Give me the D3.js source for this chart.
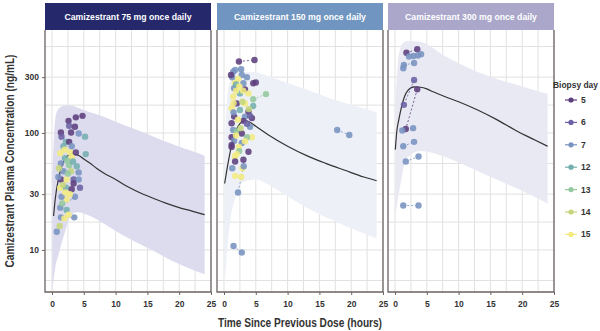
<!DOCTYPE html>
<html>
  <head>
    <meta charset="utf-8">
    <script src="https://d3js.org/d3.v7.min.js"></script>
    <style>
      body { margin: 0; background: #fff; }
      text { font-family: "Liberation Sans", Arial, sans-serif; }
      .hdr { font-weight: bold; font-size: 8.7px; fill: #fff; }
      .tick { font-weight: bold; font-size: 8.5px; fill: #333; }
    </style>
  </head>
  <body>
    <script>
      // categories
      var days = [5, 6, 7, 12, 13, 14, 15];
      var dayColors = ["#5d3f7e", "#6a62a4", "#7893c0", "#74aeae", "#94c89e", "#c5d67c", "#f3ea80"];
      var panelTitles = ["Camizestrant 75 mg once daily", "Camizestrant 150 mg once daily", "Camizestrant 300 mg once daily"];
      var headerColors = ["#25296b", "#6f95c0", "#aaa7ca"];
      var bandColors = ["#dddcef", "#eef0f7", "#e9e9f4"];
      var timeTicks = [0, 5, 10, 15, 20, 25];
      var concTicks = [10, 30, 100, 300];

      // model median [time, conc]
      var median75 = [[0.25,19.5],[0.5,27],[1,40],[1.5,51],[2,59],[2.5,64],[3,66],[4,65],[5,60],[6,55],[7,50],
                      [8,46],[10,40],[12,34.5],[14,30.5],[16,27.5],[18,25],[20,23],[22,21.5],[24,20]];
      var median150 = [[0.1,37],[0.5,50],[1,70],[1.5,90],[2,108],[2.5,120],[3,126],[3.5,127],[4,124],[5,114],
                       [7,96],[10,77],[13,64],[16,55],[19,48],[22,42],[24,39]];
      var median300 = [[0.05,72],[0.3,105],[0.6,130],[1,165],[1.5,205],[2,230],[3,248],[4,246],[5,238],[6,225],
                       [8,203],[10,185],[13,157],[16,130],[19,105],[22,87],[24,77]];

      // 90% prediction band [time, lower, upper]
      var band75 = [[0.05,4.4,40],[0.5,7,130],[1,9,160],[2,14,172],[3,20,172],[4,21,165],[6,19.5,150],[8,17,138],
                    [10,14.5,125],[13,11.8,108],[16,9.8,93],[19,8,80],[22,6.8,70],[24,6.2,64]];
      var band150 = [[0.1,5,60],[0.5,10,200],[1,18,280],[2,30,330],[3,38,335],[5,40,330],[7,36,305],[9,31,280],
                     [13,23,235],[17,18,195],[21,14.5,168],[24,12.5,150]];
      var band300 = [[0.1,20,200],[0.5,28,420],[1,40,560],[1.5,55,600],[2,62,610],[4,70,600],[8,62,450],
                     [12,50,350],[16,40,290],[20,32,250],[24,25,215]];

      // observations [time, conc, biopsy day, subject (pairs joined)]
      var obs75 = [[2.6,127,5],[3.75,136,5,1],[4.8,140,5,1],[2.7,115,6],[3.6,113,5],[1.4,101,5],[1.5,93,6],
                   [3.0,101,5],[4.2,99,7],[5.2,93,12],[2.2,84,12],[2.7,84,5],[1.8,77,12],[3.1,77,7],[1.3,67,15],
                   [2.85,68,15],[3.75,68,5],[5.3,66,12],[2.05,61,12],[3.1,62,15],[1.4,55,7],[2.7,53,13],[3.9,52,12],
                   [1.8,47,7,4],[3.0,47,14],[4.2,46,7,4],[1.4,40,5],[2.3,40,15],[3.4,40,6],[3.4,37,5],[1.0,42,7],
                   [4.2,40,7],[1.3,34,15],[2.2,34,12],[3.1,33,5],[4.4,34,6],[3.6,28.5,7,3],[1.3,23,7,3],[2.3,27,15],
                   [1.5,28.5,7],[2.3,22,12],[1.4,19,7,2],[3.5,19,7,2],[1.95,18.6,15],[0.75,14.3,7],[2.0,72,15],
                   [2.4,58,13],[1.7,36,14],[2.8,30,15],[1.1,50,14],[3.3,57,12],[2.5,45,13],[2.1,31,15],[1.6,25,13],
                   [2.6,20,15],[1.2,16,14]];
      var obs150 = [[2.35,408,5,11],[4.8,421,5,11],[1.45,334,7],[2.7,350,7],[1.75,345,7],[1.3,299,7],[2.8,313,7],
                    [1.1,313,5],[1.7,266,15],[3.05,266,7],[4.6,266,5,12],[5.0,270,5,12],[6.6,215,13,13],[4.6,194,13,13],
                    [1.6,241,7],[3.3,236,5],[2.5,218,12],[3.85,218,15],[1.45,204,15],[2.0,179,5],[3.3,179,15],
                    [4.6,170,12],[1.2,163,15],[2.5,157,12],[3.85,152,5],[1.6,138,5],[3.3,138,7],[4.4,134,5],[1.2,121,5],
                    [3.05,127,5],[4.1,113,7],[1.45,106,7],[2.0,103,13],[2.8,99,5],[4.4,92,15],[3.6,92,13],[1.2,92,5],
                    [1.6,86,7],[2.8,82,7],[1.2,76,5],[2.35,76,15],[3.85,69,5],[1.7,63,15],[3.05,59,5],[1.3,50,7],
                    [2.9,50,15],[1.75,43,15],[3.1,52,7,16],[2.2,31,7,16],[1.5,10.8,7,14],[2.8,9.5,7,14],
                    [17.8,106,7,15],[19.7,96,7,15],[1.75,57,5],[1.2,79,5],[2.2,290,15],[3.6,300,7],[1.9,230,15],
                    [2.9,185,14],[1.5,180,15],[3.9,160,14],[2.2,130,15],[3.6,120,6],[2.6,110,14],[1.9,95,15],
                    [3.3,85,15],[2.4,70,13],[2.0,66,15],[2.7,42,15],[1.5,150,7],[4.1,140,6],[1.9,260,12],
                    [2.4,250,15],[3.0,230,15]];
      var obs300 = [[1.8,485,5,21],[3.5,519,5,21],[2.2,450,7],[2.9,455,7],[4.1,472,7],[3.6,460,7],[1.4,381,7,22],
                    [3.0,396,7,22],[1.3,358,7],[3.0,284,6,23],[1.4,174,6,23],[3.5,236,5,24],[1.7,108,5,24],
                    [1.15,105,7,25],[2.85,110,7,25],[1.3,77,7,26],[3.0,84,7,26],[1.7,57,7,27],[3.7,63,7,27],
                    [1.3,24,7,28],[3.7,24,7,28]];

      var medians = [median75, median150, median300];
      var bands = [band75, band150, band300];
      var observations = [obs75, obs150, obs300];

      var W = 600, H = 331;
      var panelX = [45, 217, 388], panelW = 166;
      var plotTop = 30, plotBottom = 292, hdrTop = 3;

      var svg = d3.select("body").append("svg")
        .attr("width", W).attr("height", H);

      var y = d3.scaleLog().domain([4.37, 759]).range([plotBottom, plotTop]);
      var yMinor = [5.48, 17.3, 54.8, 173, 548];
      var color = d3.scaleOrdinal().domain(days).range(dayColors);

      panelTitles.forEach(function (title, p) {
        var x = d3.scaleLinear().domain([-1.1, 25]).range([panelX[p], panelX[p] + panelW]);
        var g = svg.append("g");

        // grid
        var xGrid = d3.range(0, 25.1, 2.5);
        g.selectAll(".vg").data(xGrid).enter().append("line")
          .attr("x1", x).attr("x2", x).attr("y1", plotTop).attr("y2", plotBottom)
          .attr("stroke", "#e1e1e1").attr("stroke-width", 1);
        g.selectAll(".hg").data(concTicks.concat(yMinor)).enter().append("line")
          .attr("x1", panelX[p]).attr("x2", panelX[p] + panelW)
          .attr("y1", function (d) { return y(d); }).attr("y2", function (d) { return y(d); })
          .attr("stroke", "#e1e1e1").attr("stroke-width", 1);

        // band
        var area = d3.area().curve(d3.curveMonotoneX)
          .x(function (d) { return x(d[0]); })
          .y0(function (d) { return y(Math.max(d[1], 4.37)); })
          .y1(function (d) { return y(d[2]); });
        g.append("path").datum(bands[p]).attr("d", area).attr("fill", bandColors[p]);

        // median
        var line = d3.line().curve(d3.curveMonotoneX)
          .x(function (d) { return x(d[0]); })
          .y(function (d) { return y(d[1]); });
        g.append("path").datum(medians[p]).attr("d", line)
          .attr("fill", "none").attr("stroke", "#333").attr("stroke-width", 1.2);

        // pair links
        var groups = d3.groups(observations[p].filter(function (d) { return d[3] != null; }), function (d) { return d[3]; });
        g.selectAll(".pair").data(groups).enter().append("line")
          .attr("x1", function (d) { return x(d[1][0][0]); })
          .attr("y1", function (d) { return y(d[1][0][1]); })
          .attr("x2", function (d) { return x(d[1][1][0]); })
          .attr("y2", function (d) { return y(d[1][1][1]); })
          .attr("stroke", function (d) { return color(d[1][0][2]); })
          .attr("stroke-width", 1).attr("stroke-dasharray", "2,2").attr("opacity", 0.8);

        // points
        g.selectAll(".pt").data(observations[p]).enter().append("circle")
          .attr("cx", function (d) { return x(d[0]); })
          .attr("cy", function (d) { return y(d[1]); })
          .attr("r", 3.2)
          .attr("fill", function (d) { return color(d[2]); })
          .attr("opacity", 0.88);

        // frame
        g.append("path")
          .attr("d", "M" + panelX[p] + "," + plotTop + "V" + plotBottom + "H" + (panelX[p] + panelW) + "V" + plotTop)
          .attr("fill", "none").attr("stroke", "#6b6462").attr("stroke-width", 1.3);

        // header
        g.append("rect").attr("x", panelX[p]).attr("y", hdrTop)
          .attr("width", panelW).attr("height", plotTop - hdrTop).attr("fill", headerColors[p]);
        g.append("text").attr("class", "hdr")
          .attr("x", panelX[p] + panelW / 2).attr("y", 19.8)
          .attr("text-anchor", "middle").text(title);

        // x axis
        var xa = d3.axisBottom(x).tickValues(timeTicks).tickSize(3).tickSizeOuter(0);
        var ax = g.append("g").attr("transform", "translate(0," + plotBottom + ")").call(xa);
        ax.select(".domain").remove();
        ax.selectAll("line").attr("stroke", "#6b6462");
        ax.selectAll("text").attr("class", "tick").attr("dy", "1.05em").attr("font-family", null).attr("font-size", null);

        if (p === 0) {
          var ya = d3.axisLeft(y).tickValues(concTicks).tickFormat(d3.format("d")).tickSize(3).tickSizeOuter(0);
          var ay = g.append("g").attr("transform", "translate(" + panelX[p] + ",0)").call(ya);
          ay.select(".domain").remove();
          ay.selectAll("line").attr("stroke", "#6b6462");
          ay.selectAll("text").attr("class", "tick").attr("font-family", null).attr("font-size", null);
        }
      });

      // axis titles
      svg.append("text")
        .attr("x", 300).attr("y", 327).attr("text-anchor", "middle")
        .attr("textLength", 164).attr("lengthAdjust", "spacingAndGlyphs")
        .style("font-size", "13px").style("font-weight", "bold").style("fill", "#333")
        .text("Time Since Previous Dose (hours)");
      svg.append("text")
        .attr("transform", "translate(14,161) rotate(-90)").attr("text-anchor", "middle")
        .attr("textLength", 213).attr("lengthAdjust", "spacingAndGlyphs")
        .style("font-size", "12px").style("font-weight", "bold").style("fill", "#333")
        .text("Camizestrant Plasma Concentration (ng/mL)");

      // legend
      var leg = svg.append("g");
      leg.append("text").attr("x", 553).attr("y", 88)
        .attr("textLength", 45).attr("lengthAdjust", "spacingAndGlyphs")
        .style("font-size", "8.5px").style("font-weight", "bold").style("fill", "#333")
        .text("Biopsy day");
      var items = leg.selectAll(".item").data(days).enter().append("g")
        .attr("transform", function (d, i) { return "translate(0," + (100 + i * 22.4) + ")"; });
      items.append("line").attr("x1", 565).attr("x2", 577)
        .attr("stroke", function (d) { return color(d); }).attr("stroke-width", 1.2);
      items.append("circle").attr("cx", 571).attr("r", 2.6)
        .attr("fill", function (d) { return color(d); });
      items.append("text").attr("x", 581).attr("y", 3)
        .style("font-size", "8.5px").style("font-weight", "bold").style("fill", "#333")
        .text(function (d) { return d; });
    </script>
  </body>
</html>
